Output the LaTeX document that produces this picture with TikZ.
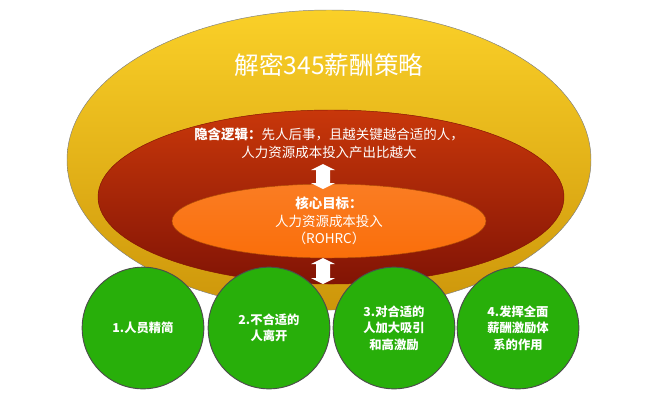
\documentclass[tikz,border=0pt]{standalone}
\usepackage{fontspec}
\setmainfont{Noto Sans CJK SC}
\definecolor{goldtop}{RGB}{250,208,40}
\definecolor{goldbot}{RGB}{205,150,10}
\definecolor{redtop}{RGB}{200,55,10}
\definecolor{redbot}{RGB}{130,20,5}
\definecolor{orng}{RGB}{250,110,10}
\definecolor{grn}{RGB}{40,175,10}
\begin{document}
\begin{tikzpicture}[x=0.03cm,y=-0.03cm,
    txt/.style={text=white,font=\fontsize{11.5}{15}\selectfont,align=center},
    ball/.style={circle,draw=black!70,thick,fill=grn,minimum size=3.65cm,
        text=white,font=\bfseries\fontsize{10.5}{14}\selectfont,align=center},
    dblarrow/.style={fill=white,draw=none}]
  \useasboundingbox (0,0) rectangle (649,410);
  % outer ellipse
  \shade[top color=goldtop,bottom color=goldbot,draw=black!50]
    (329,160) ellipse [x radius=262,y radius=150];
  \node[txt,font=\fontsize{21}{24}\selectfont] (title) at (329,65) {解密345薪酬策略};
  % red ellipse
  \shade[top color=redtop,bottom color=redbot,draw=redbot]
    (331,197) ellipse [x radius=233,y radius=87];
  \node[txt] (logic) at (329,143) {\textbf{隐含逻辑：}先人后事，且越关键越合适的人，\\人力资源成本投入产出比越大};
  % orange ellipse
  \shade[top color=orng!90,bottom color=orng,draw=orng!70!black]
    (329,221) ellipse [x radius=157,y radius=37];
  \node[txt] (goal) at (329,221) {\textbf{核心目标：}\\人力资源成本投入\\（ROHRC）};
  % double arrows
  \foreach \y/\h in {164/25,258/26}{
    \fill[dblarrow] (323,\y) -- (335,\y+6) -- (330,\y+6) -- (330,\y+\h-6) -- (335,\y+\h-6)
      -- (323,\y+\h) -- (311,\y+\h-6) -- (316,\y+\h-6) -- (316,\y+6) -- (311,\y+6) -- cycle;
  }
  % circles
  \node[ball] (c1) at (143,328) {1.人员精简};
  \node[ball] (c2) at (269,328) {2.不合适的\\人离开};
  \node[ball] (c3) at (394,328) {3.对合适的\\人加大吸引\\和高激励};
  \node[ball] (c4) at (518,328) {4.发挥全面\\薪酬激励体\\系的作用};
\end{tikzpicture}
\end{document}
